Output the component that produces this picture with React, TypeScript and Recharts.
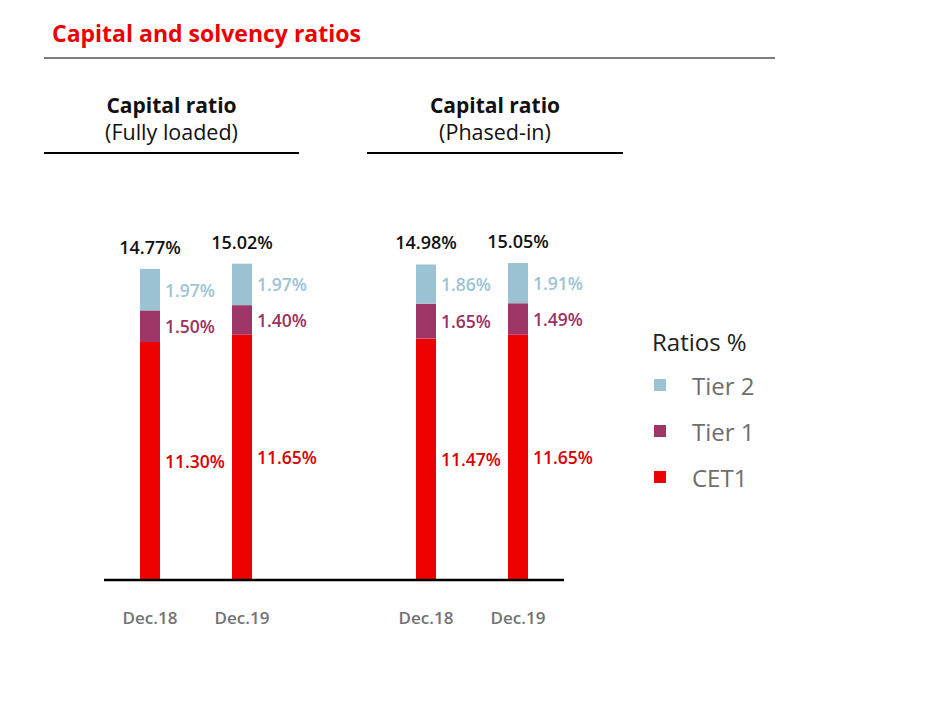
import { BarChart, Bar, XAxis, YAxis, LabelList } from "recharts";

const categories = ["Dec.18", "Dec.19", "", "Dec.18", "Dec.19"];
const cet1 = [11.3, 11.65, null, 11.47, 11.65];
const tier1 = [1.5, 1.4, null, 1.65, 1.49];
const tier2 = [1.97, 1.97, null, 1.86, 1.91];
const totals = [14.77, 15.02, null, 14.98, 15.05];

const FONT = "'Open Sans', sans-serif";
const RED = "#EC0000";
const PLUM = "#9E3667";
const BLUE = "#9BC3D3";

const data = categories.map((c, i) => ({
  key: "c" + i,
  label: c,
  cet1: cet1[i],
  tier1: tier1[i],
  tier2: tier2[i],
  total: totals[i],
}));

const fmt = (v) => (v == null ? "" : v.toFixed(2) + "%");

const sideLabel = (color) => (props) => {
  const { x, y, width, height, value } = props;
  if (value == null) return null;
  return (
    <text
      x={x + width + 5}
      y={y + height / 2}
      fill={color}
      fontSize={17.5}
      fontWeight={600}
      fontFamily={FONT}
      dominantBaseline="central"
    >
      {fmt(value)}
    </text>
  );
};

const totalLabel = (props) => {
  const { x, y, width, value } = props;
  if (value == null) return null;
  return (
    <text
      x={x + width / 2}
      y={y - 22}
      fill="#111"
      fontSize={18}
      fontWeight={600}
      fontFamily={FONT}
      textAnchor="middle"
      dominantBaseline="central"
    >
      {fmt(value)}
    </text>
  );
};

const legendItems = [
  { name: "Tier 2", color: BLUE },
  { name: "Tier 1", color: PLUM },
  { name: "CET1", color: RED },
];

const LegendBox = () => (
  <div style={{ position: "absolute", left: 652, top: 322, fontFamily: FONT }}>
    <div style={{ fontSize: 24, color: "#222", height: 40, lineHeight: "40px" }}>Ratios %</div>
    {legendItems.map((it) => (
      <div key={it.name} style={{ display: "flex", alignItems: "center", height: 46 }}>
        <span style={{ width: 12, height: 12, background: it.color, display: "inline-block", marginLeft: 2 }} />
        <span style={{ fontSize: 24, color: "#6e6e6e", marginLeft: 26 }}>{it.name}</span>
      </div>
    ))}
  </div>
);

const Tick = (props) => {
  const { x, y, payload } = props;
  const i = data.findIndex((d) => d.key === payload.value);
  return (
    <text
      x={x}
      y={y + 29}
      fill="#737373"
      fontSize={17}
      fontWeight={600}
      fontFamily={FONT}
      textAnchor="middle"
      dominantBaseline="central"
    >
      {i >= 0 ? categories[i] : ""}
    </text>
  );
};

const Heading = ({ left, width, title, sub }) => (
  <div style={{ position: "absolute", left, top: 92, width, fontFamily: FONT, textAlign: "center" }}>
    <div style={{ fontSize: 21, fontWeight: 700, color: "#111", lineHeight: "26px", height: 26 }}>{title}</div>
    <div style={{ fontSize: 21.5, color: "#111", lineHeight: "27px" }}>{sub}</div>
    <div style={{ position: "absolute", top: 60, left: 0, width, height: 2, background: "#000" }} />
  </div>
);

export default function App() {
  return (
    <div style={{ position: "absolute", left: 0, top: 0, width: 928, height: 710, background: "#fff" }}>
      <div
        style={{
          position: "absolute",
          left: 52,
          top: 17,
          fontFamily: FONT,
          fontSize: 23,
          fontWeight: 700,
          color: RED,
        }}
      >
        Capital and solvency ratios
      </div>
      <div style={{ position: "absolute", left: 44, top: 57, width: 731, height: 2, background: "#7f7f7f" }} />
      <Heading left={44} width={255} title="Capital ratio" sub="(Fully loaded)" />
      <Heading left={367} width={256} title="Capital ratio" sub="(Phased-in)" />
      <div style={{ position: "absolute", left: 0, top: 0 }}>
        <BarChart
          width={928}
          height={710}
          data={data}
          margin={{ top: 243, right: 364, bottom: 90, left: 104 }}
        >
          <XAxis
            dataKey="key"
            height={40}
            axisLine={{ stroke: "#000", strokeWidth: 2.5 }}
            tickLine={false}
            tick={<Tick />}
            interval={0}
          />
          <YAxis hide domain={[0, 16]} />
          <Bar dataKey="cet1" stackId="a" fill={RED} barSize={20} isAnimationActive={false}>
            <LabelList dataKey="cet1" content={sideLabel("#D90000")} />
          </Bar>
          <Bar dataKey="tier1" stackId="a" fill={PLUM} barSize={20} isAnimationActive={false}>
            <LabelList dataKey="tier1" content={sideLabel("#9A3262")} />
          </Bar>
          <Bar dataKey="tier2" stackId="a" fill={BLUE} barSize={20} isAnimationActive={false}>
            <LabelList dataKey="tier2" content={sideLabel("#9DC4D6")} />
            <LabelList dataKey="total" content={totalLabel} />
          </Bar>
        </BarChart>
      </div>
      <LegendBox />
    </div>
  );
}
